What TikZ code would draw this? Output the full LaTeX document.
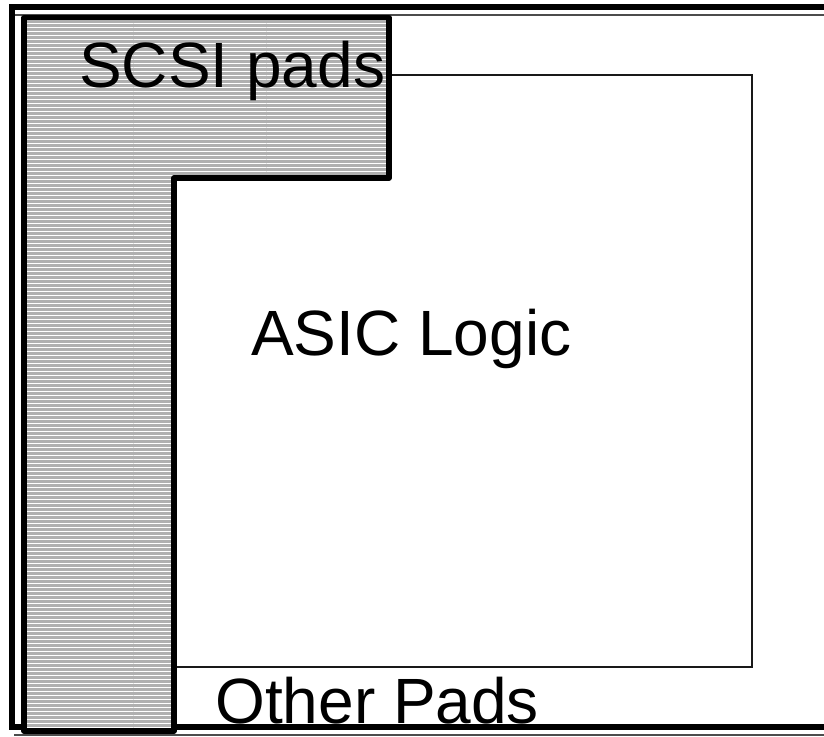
\documentclass[tikz,border=0pt]{standalone}
\usepackage{fontspec}
\setmainfont{Liberation Sans}
\usetikzlibrary{patterns}
\definecolor{padgray}{RGB}{176,176,176}
\tikzset{
  frame/.style={line width=3.8pt},
  thinline/.style={line width=0.8pt, black!70},
  padshape/.style={line width=4pt, line join=round, draw=black,
     preaction={fill=padgray},
     preaction={pattern=horizontal lines, pattern color=white}},
  logic/.style={line width=1.2pt, black!90},
  lbl/.style={inner sep=0pt, anchor=base west, font=\fontsize{48}{48}\selectfont}
}
\begin{document}
\begin{tikzpicture}[x=0.75pt, y=-0.75pt]
\useasboundingbox (0,0) rectangle (824,736);
\clip (0,0) rectangle (824,736);
\fill[white] (0,0) rectangle (824,736);
% outer frame
\draw[thinline] (14,15) -- (840,15);
\draw[thinline] (14,735) -- (840,735);
\draw[frame] (840,7) -- (12,7) -- (12,727) -- (840,727);
% ASIC logic block
\draw[logic] (174,75) rectangle (752,667);
% SCSI pads L-shape
\path[padshape] (24,17.5) -- (389,17.5) -- (389,178) -- (174,178) -- (174,731) -- (24,731) -- cycle;
% labels
\node[lbl] (scsi) at (79,87) {SCSI pads};
\node[lbl] (asic) at (251,355) {ASIC Logic};
\node[lbl] (other) at (215,723) {Other Pads};
\end{tikzpicture}
\end{document}
